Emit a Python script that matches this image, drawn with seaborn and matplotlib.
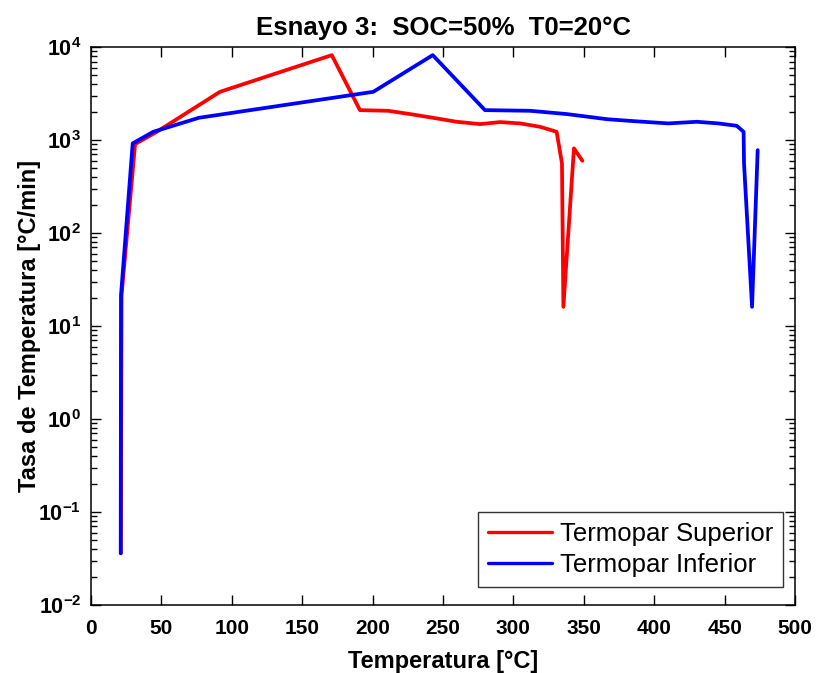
import numpy as np
import pandas as pd
import matplotlib
matplotlib.use("Agg")
from matplotlib import pyplot as plt
from matplotlib.ticker import LogLocator, NullFormatter, FixedLocator
import seaborn as sns

# valores
temp_sup = [21.2, 21.7, 31.3, 46.7, 91.6, 171.0, 191.0, 211.0, 226.6, 245.5, 259.7,
            276.3, 290.5, 304.7, 318.9, 330.7, 334.5, 335.5, 343.0, 349.0]
tasa_sup = [0.036, 21.5, 906, 1228, 3306, 8200, 2100, 2066, 1905, 1711, 1574,
            1486, 1562, 1512, 1390, 1228, 561, 16.1, 815, 599]

temp_inf = [21.1, 21.3, 29.6, 44.2, 76.7, 200.5, 242.7, 279.8, 311.8, 337.9, 366.3,
            385.2, 410.0, 430.2, 445.5, 458.6, 463.5, 463.8, 469.5, 473.5]
tasa_inf = [0.036, 21.5, 922, 1228, 1738, 3306, 8200, 2100, 2066, 1905, 1679,
            1600, 1512, 1574, 1512, 1425, 1228, 561, 16.1, 780]

series = ["Termopar Superior", "Termopar Inferior"]
colores = {"Termopar Superior": "#ff0000", "Termopar Inferior": "#0000ff"}

x_ticks = [0, 50, 100, 150, 200, 250, 300, 350, 400, 450, 500]
y_exps = [-2, -1, 0, 1, 2, 3, 4]

df = pd.concat([
    pd.DataFrame({"T": temp_sup, "dT": tasa_sup, "serie": series[0]}),
    pd.DataFrame({"T": temp_inf, "dT": tasa_inf, "serie": series[1]}),
], ignore_index=True)

sns.set_style("ticks")
plt.rcParams["font.family"] = ["Liberation Sans", "DejaVu Sans"]
plt.rcParams["mathtext.fontset"] = "custom"
plt.rcParams["mathtext.bf"] = "Liberation Sans:bold"
plt.rcParams["mathtext.rm"] = "Liberation Sans"
for k in ["text.color", "axes.labelcolor", "xtick.color", "ytick.color", "axes.edgecolor"]:
    plt.rcParams[k] = "black"

fig = plt.figure(figsize=(8.2, 6.73), dpi=100)
ax = fig.add_axes([0.111, 0.101, 0.8585, 0.829])

sns.lineplot(data=df, x="T", y="dT", hue="serie", palette=colores, sort=False,
             estimator=None, linewidth=2.7, ax=ax, legend=False)

ax.set_yscale("log")
ax.set_xlim(0, 500)
ax.set_ylim(1e-2, 1e4)

ax.set_xticks(x_ticks)
ax.set_xticklabels([str(t) for t in x_ticks], fontweight="bold", fontsize=15)
ax.yaxis.set_major_locator(FixedLocator([10.0 ** e for e in y_exps]))
ax.set_yticklabels([r"$\mathbf{10^{%d}}$" % e for e in y_exps], fontsize=15.5)
ax.yaxis.set_minor_locator(LogLocator(base=10, subs=np.arange(2, 10), numticks=20))
ax.yaxis.set_minor_formatter(NullFormatter())

ax.tick_params(which="both", direction="in", top=True, right=True, width=1)
ax.tick_params(which="major", length=7)
ax.tick_params(axis="x", which="major", pad=10)
ax.tick_params(axis="y", which="major", pad=7)
ax.tick_params(which="minor", length=4)
for s in ax.spines.values():
    s.set_linewidth(1.1)

ax.set_xlabel("Temperatura [°C]", fontweight="bold", fontsize=17, labelpad=9)
ax.set_ylabel("Tasa de Temperatura [°C/min]", fontweight="bold", fontsize=17, labelpad=-2)
ax.set_title("Esnayo 3:  SOC=50%  T0=20°C", fontweight="bold", fontsize=18.5, pad=9)

handles = [plt.Line2D([], [], color=colores[s], linewidth=2.4) for s in series]
leg = ax.legend(handles, series, loc="lower right", bbox_to_anchor=(0.983, 0.032),
                fontsize=18.5, frameon=True, fancybox=False, edgecolor="black",
                handlelength=2.5, handletextpad=0.3, borderpad=0.38,
                labelspacing=0.3, borderaxespad=0)
leg.get_frame().set_linewidth(1.0)

fig.savefig("out.png", dpi=100)
